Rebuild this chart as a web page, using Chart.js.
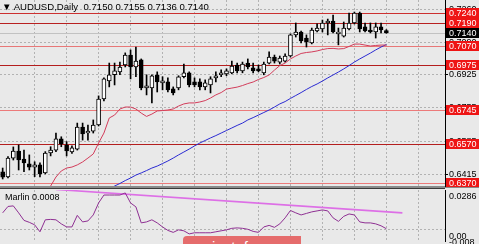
<!DOCTYPE html>
<html><head><meta charset="utf-8">
<script src="https://cdn.jsdelivr.net/npm/chart.js@4.4.1/dist/chart.umd.min.js"></script>
<style>
html,body{margin:0;padding:0;width:479px;height:244px;overflow:hidden;background:#e9e9e9;font-family:"Liberation Sans",Arial,sans-serif;}
#main{position:absolute;left:0;top:0;}
#ind{position:absolute;left:0;top:187px;}
#title{position:absolute;left:2px;top:2px;font-size:9.6px;line-height:10px;color:#000;white-space:pre;}
#ititle{position:absolute;left:5px;top:192px;font-size:9px;line-height:10px;color:#000;white-space:pre;}
#wm{position:absolute;left:183px;top:236px;width:118px;height:20px;background:#e56c6c;border-radius:4px 0 0 0;color:#fff;font-size:15px;line-height:15px;padding-left:29px;padding-top:3px;box-sizing:border-box;}
</style>
</head><body>
<canvas id="main" width="479" height="187"></canvas>
<canvas id="ind" width="479" height="57"></canvas>
<div id="title"></div>
<div id="ititle"></div>
<div id="wm">instaforex</div>
<script>
// ---- data ----
const symbol = 'AUDUSD';
const timeframe = 'Daily';
const opens = [
0.6428,0.6401,0.6498,0.6534,0.6493,0.6468,0.6452,0.6463,0.6422,0.6524,
0.6539,0.6596,0.6565,0.6529,0.6544,0.6657,0.6626,0.6636,0.6667,0.6800,
0.6893,0.6924,0.6939,0.6974,0.7025,0.6964,0.7000,0.6857,0.6857,0.6924,
0.6883,0.6888,0.6852,0.6857,0.6914,0.6934,0.6888,0.6888,0.6862,0.6872,
0.6908,0.6924,0.6929,0.6934,0.6974,0.6944,0.6984,0.6959,0.6954,0.6934,
0.6984,0.7015,0.6989,0.6994,0.7020,0.7128,0.7143,0.7112,0.7087,0.7148,
0.7158,0.7189,0.7199,0.7133,0.7122,0.7158,0.7189,0.7240,0.7169,0.7153,
0.7143,0.7169,0.7150];
const highs = [
0.6447,0.6505,0.6555,0.6565,0.6539,0.6514,0.6479,0.6473,0.6531,0.6556,
0.6626,0.6607,0.6582,0.6560,0.6677,0.6677,0.6667,0.6693,0.6816,0.6908,
0.6984,0.6984,0.6989,0.7036,0.7051,0.7066,0.7005,0.6924,0.6924,0.6939,
0.6914,0.6908,0.6862,0.6919,0.6979,0.6939,0.6908,0.6903,0.6898,0.6914,
0.6939,0.6949,0.6954,0.6994,0.6984,0.6989,0.7005,0.6984,0.6974,0.6989,
0.7041,0.7025,0.7020,0.7031,0.7133,0.7189,0.7148,0.7128,0.7163,0.7184,
0.7204,0.7209,0.7230,0.7163,0.7194,0.7240,0.7245,0.7245,0.7189,0.7189,
0.7189,0.7189,0.7155];
const lows = [
0.6391,0.6396,0.6488,0.6437,0.6428,0.6437,0.6403,0.6401,0.6417,0.6509,
0.6531,0.6556,0.6509,0.6522,0.6539,0.6590,0.6590,0.6626,0.6662,0.6790,
0.6862,0.6872,0.6924,0.6964,0.6903,0.6914,0.6847,0.6821,0.6780,0.6836,
0.6847,0.6836,0.6821,0.6847,0.6908,0.6862,0.6862,0.6847,0.6847,0.6831,
0.6888,0.6914,0.6919,0.6929,0.6934,0.6934,0.6954,0.6934,0.6939,0.6924,
0.6979,0.6984,0.6979,0.6989,0.7015,0.7117,0.7087,0.7066,0.7082,0.7143,
0.7143,0.7128,0.7138,0.7077,0.7117,0.7153,0.7184,0.7143,0.7143,0.7138,
0.7112,0.7138,0.7136];
const closes = [
0.6400,0.6498,0.6534,0.6488,0.6473,0.6452,0.6463,0.6417,0.6524,0.6539,
0.6596,0.6570,0.6534,0.6550,0.6657,0.6621,0.6636,0.6667,0.6800,0.6903,
0.6924,0.6944,0.6964,0.7025,0.6964,0.6994,0.6857,0.6867,0.6919,0.6888,
0.6893,0.6847,0.6831,0.6914,0.6934,0.6872,0.6872,0.6862,0.6883,0.6903,
0.6919,0.6934,0.6944,0.6969,0.6944,0.6979,0.6964,0.6944,0.6944,0.6979,
0.7015,0.6994,0.7010,0.7020,0.7128,0.7143,0.7097,0.7092,0.7153,0.7163,
0.7189,0.7199,0.7143,0.7143,0.7163,0.7189,0.7240,0.7158,0.7148,0.7143,
0.7169,0.7153,0.7140];
const redMA = [
null,null,null,null,null,null,null,null,0.6325,0.6355,
0.6401,0.6432,0.6447,0.6452,0.6463,0.6478,0.6498,0.6519,0.6575,0.6626,
0.6703,0.6718,0.6749,0.6759,0.6759,0.6749,0.6728,0.6711,0.6723,0.6739,
0.6741,0.6744,0.6749,0.6764,0.6775,0.6780,0.6780,0.6785,0.6792,0.6805,
0.6821,0.6833,0.6851,0.6856,0.6861,0.6869,0.6879,0.6887,0.6900,0.6910,
0.6923,0.6948,0.6971,0.6984,0.7005,0.7020,0.7033,0.7038,0.7041,0.7046,
0.7053,0.7058,0.7059,0.7056,0.7058,0.7069,0.7081,0.7081,0.7076,0.7071,
0.7074,0.7076,0.7076];
const blueMA = [
null,null,null,null,null,null,null,null,null,null,
null,null,null,null,null,null,null,null,null,null,
0.6340,0.6355,0.6368,0.6383,0.6396,0.6411,0.6422,0.6434,0.6447,0.6457,
0.6470,0.6483,0.6498,0.6514,0.6529,0.6544,0.6560,0.6575,0.6588,0.6601,
0.6613,0.6626,0.6639,0.6652,0.6665,0.6677,0.6693,0.6705,0.6718,0.6731,
0.6744,0.6759,0.6775,0.6787,0.6803,0.6818,0.6833,0.6849,0.6864,0.6877,
0.6892,0.6908,0.6923,0.6938,0.6954,0.6971,0.6989,0.7005,0.7020,0.7035,
0.7051,0.7066,0.7079];
const marlin = [
0.0122,0.0168,0.0172,0.0122,0.0068,0.0054,0.0036,-0.0014,0.0072,0.0075,
0.0072,0.0043,0.0021,0.0021,0.0104,0.0057,0.0064,0.0107,0.0193,0.0250,
0.0250,0.0250,0.0250,0.0265,0.0193,0.0165,0.0050,0.0057,0.0072,0.0050,
0.0021,-0.0004,-0.0018,0.0000,-0.0007,-0.0029,-0.0021,-0.0021,-0.0021,-0.0021,
-0.0014,-0.0007,0.0000,0.0011,0.0014,0.0011,0.0004,-0.0011,-0.0018,0.0021,
0.0032,0.0018,0.0043,0.0086,0.0139,0.0122,0.0107,0.0118,0.0129,0.0136,
0.0143,0.0136,0.0086,0.0061,0.0097,0.0114,0.0107,0.0057,0.0050,0.0050,
0.0043,0.0029,0.0008];
const trendX = [10, 75];
const trendY = [0.0290, 0.0122];
const priceTicks = [0.7260, 0.7090, 0.6925, 0.6755, 0.6585, 0.6415];
const levels = [0.7240, 0.7190, 0.7070, 0.6975, 0.6745, 0.6570, 0.6370];
const indLabels = [0.0286, 0.0, -0.008];

// ---- styles / layout ----
const levelColors = ['#cc3030','#b82020','#e87878','#b41e1e','#ec7a7a','#b41e1e','#ec7a7a'];
const priceMin = 0.6350, priceMax = 0.73065;
const indMin = -0.008, indMax = 0.0286;
const xMin = -0.5, xMax = 83.0;
const gridStep = 6;
const FONT = '"Liberation Sans", Arial, sans-serif';
Chart.defaults.font.family = FONT;

const n = opens.length;
const idx = opens.map((_, i) => i);
const last = n - 1;
document.getElementById('title').textContent =
  '\u25BC ' + symbol + ',' + timeframe + '  ' +
  [opens[last], highs[last], lows[last], closes[last]].map(v => v.toFixed(4)).join(' ');
document.getElementById('ititle').textContent = 'Marlin ' + marlin[last].toFixed(4);

const gridTicks = [];
for (let k = gridStep; k < xMax; k += gridStep) gridTicks.push({value: k});

function xScale() {
  return {
    type: 'linear', min: xMin, max: xMax, bounds: 'data', offset: false,
    grid: {offset: false, color: '#b2b2b2', lineWidth: 1, drawTicks: false},
    border: {display: false, dash: [2, 2]},
    ticks: {display: false},
    afterBuildTicks: s => { s.ticks = gridTicks.slice(); },
    afterFit: s => { s.height = 0; s.paddingLeft = 0; s.paddingRight = 0; }
  };
}

const pts = arr => idx.filter(i => arr[i] !== null).map(i => ({x: i, y: arr[i]}));

const mainPlugin = {
  id: 'mainDecor',
  beforeDatasetsDraw(chart) {
    const {ctx, chartArea: a, scales: {y}} = chart;
    ctx.save();
    ctx.beginPath(); ctx.rect(a.left, a.top, a.right - a.left, a.bottom - a.top); ctx.clip();
    ctx.lineWidth = 1;
    const yb = Math.round(y.getPixelForValue(closes[last])) + 0.5;
    ctx.strokeStyle = '#c2c2c2';
    ctx.beginPath(); ctx.moveTo(a.left, yb); ctx.lineTo(a.right, yb); ctx.stroke();
    levels.forEach((v, k) => {
      const py = Math.round(y.getPixelForValue(v)) + 0.5;
      ctx.strokeStyle = levelColors[k];
      ctx.beginPath(); ctx.moveTo(a.left, py); ctx.lineTo(a.right, py); ctx.stroke();
    });
    ctx.restore();
  },
  afterDraw(chart) {
    const {ctx, chartArea: a, scales: {y}, width} = chart;
    ctx.save();
    ctx.font = '9px ' + FONT;
    ctx.textBaseline = 'middle';
    ctx.textAlign = 'left';
    const box = (v, bg) => {
      const py = Math.round(y.getPixelForValue(v));
      ctx.fillStyle = bg;
      ctx.fillRect(a.right + 1, py - 5, width - a.right - 1, 10);
      ctx.fillStyle = '#ffffff';
      ctx.fillText(v.toFixed(4), a.right + 4, py + 0.5);
    };
    box(closes[last], '#000000');
    levels.forEach(v => box(v, '#ee1515'));
    ctx.strokeStyle = '#8a8a8a'; ctx.lineWidth = 1;
    ctx.beginPath(); ctx.moveTo(0, a.bottom - 0.5); ctx.lineTo(a.right, a.bottom - 0.5); ctx.stroke();
    ctx.restore();
  }
};

new Chart(document.getElementById('main'), {
  type: 'bar',
  data: {
    datasets: [
      {
        type: 'bar', label: 'body', order: 0, grouped: false,
        data: idx.map(i => ({x: i, y: [opens[i], closes[i]]})),
        backgroundColor: idx.map(i => closes[i] >= opens[i] ? '#ffffff' : '#000000'),
        borderColor: '#000000', borderWidth: 1, borderSkipped: false,
        barThickness: 4, minBarLength: 1
      },
      {
        type: 'bar', label: 'wick', order: 1, grouped: false,
        data: idx.map(i => ({x: i, y: [lows[i], highs[i]]})),
        backgroundColor: '#000000', borderWidth: 0, barThickness: 1
      },
      {
        type: 'line', label: 'MA fast', order: -1, data: pts(redMA),
        borderColor: '#d23c5a', borderWidth: 1, pointRadius: 0, tension: 0, fill: false
      },
      {
        type: 'line', label: 'MA slow', order: -1, data: pts(blueMA),
        borderColor: '#2a2ad2', borderWidth: 1, pointRadius: 0, tension: 0, fill: false
      }
    ]
  },
  options: {
    responsive: false, animation: false,
    layout: {padding: 0},
    plugins: {legend: {display: false}, tooltip: {enabled: false}, title: {display: false}},
    scales: {
      x: xScale(),
      y: {
        position: 'right', min: priceMin, max: priceMax, bounds: 'data',
        afterBuildTicks: s => { s.ticks = priceTicks.map(v => ({value: v})); },
        afterFit: s => { s.width = 34; s.paddingTop = 0; s.paddingBottom = 0; },
        ticks: {callback: v => v.toFixed(4), color: '#000', font: {size: 9, family: FONT}, padding: 1},
        grid: {color: '#b2b2b2', lineWidth: 1, drawTicks: true, tickLength: 3, tickColor: '#000', tickBorderDash: []},
        border: {display: true, color: '#000', width: 1, dash: [2, 2]}
      }
    }
  },
  plugins: [mainPlugin]
});

const indPlugin = {
  id: 'indDecor',
  afterDraw(chart) {
    const {ctx, chartArea: a, scales: {y}} = chart;
    ctx.save();
    ctx.strokeStyle = '#8a8a8a'; ctx.lineWidth = 1;
    ctx.beginPath(); ctx.moveTo(0, 0.5); ctx.lineTo(chart.width, 0.5); ctx.stroke();
    ctx.strokeStyle = '#3a3a3a';
    ctx.beginPath(); ctx.moveTo(0, 1.5); ctx.lineTo(a.right, 1.5); ctx.stroke();
    ctx.font = '9px ' + FONT;
    ctx.fillStyle = '#000';
    ctx.textBaseline = 'top';
    ctx.fillText(indLabels[0].toFixed(4), a.right + 4, y.getPixelForValue(indLabels[0]) + 2);
    ctx.fillText(indLabels[1].toFixed(2), a.right + 4, y.getPixelForValue(indLabels[1]) + 2);
    ctx.fillText(indLabels[2].toFixed(3), a.right + 4, y.getPixelForValue(indLabels[2]) - 3);
    ctx.restore();
  }
};

new Chart(document.getElementById('ind'), {
  type: 'line',
  data: {
    datasets: [
      {
        label: 'trend', order: 1,
        data: trendX.map((x, k) => ({x: x, y: trendY[k]})),
        borderColor: '#dd6fe6', borderWidth: 1.6, pointRadius: 0, tension: 0
      },
      {
        label: 'Marlin', order: 0,
        data: idx.map(i => ({x: i, y: marlin[i]})),
        borderColor: '#8e2f92', borderWidth: 1, pointRadius: 0, tension: 0
      }
    ]
  },
  options: {
    responsive: false, animation: false,
    layout: {padding: {top: 3, bottom: 3, left: 0, right: 0}},
    plugins: {legend: {display: false}, tooltip: {enabled: false}},
    scales: {
      x: xScale(),
      y: {
        position: 'right', min: indMin, max: indMax, bounds: 'data',
        afterBuildTicks: s => { s.ticks = [{value: 0}]; },
        afterFit: s => { s.width = 34; s.paddingTop = 0; s.paddingBottom = 0; },
        ticks: {display: false},
        grid: {color: '#b2b2b2', lineWidth: 1, drawTicks: false},
        border: {display: true, color: '#000', width: 1, dash: [2, 2]}
      }
    }
  },
  plugins: [indPlugin]
});
</script>
</body></html>
